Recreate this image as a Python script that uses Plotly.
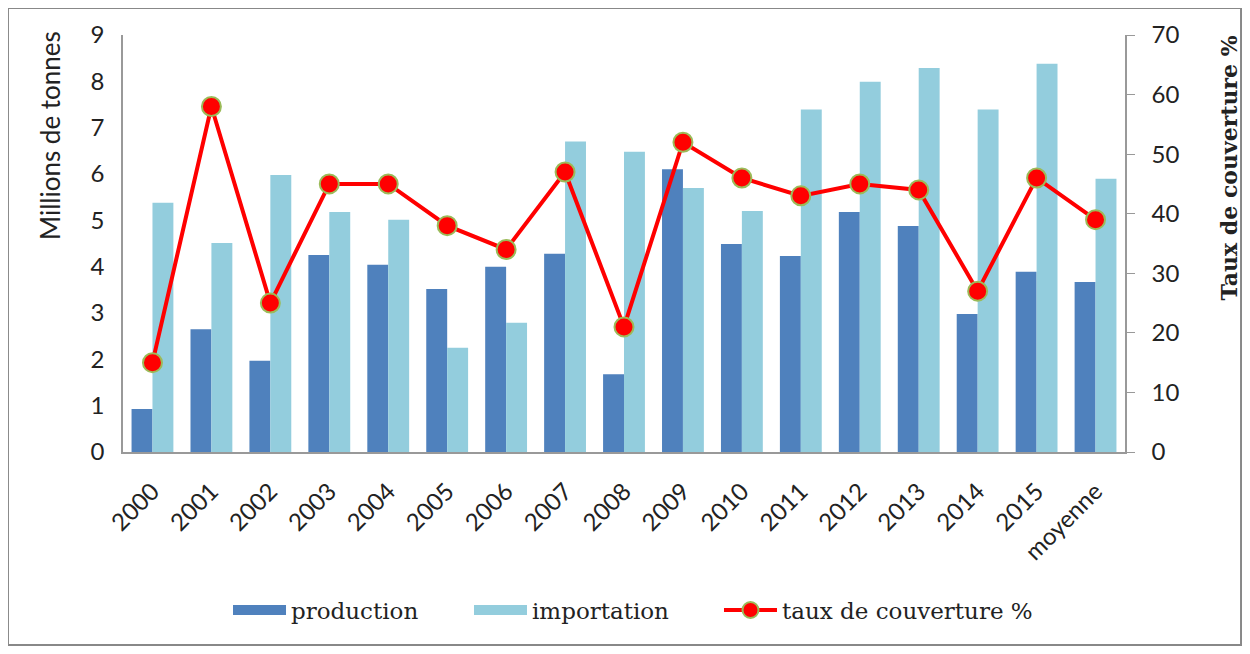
import plotly.graph_objects as go

annees = ["2000", "2001", "2002", "2003", "2004", "2005", "2006", "2007", "2008",
          "2009", "2010", "2011", "2012", "2013", "2014", "2015", "moyenne"]
production = [0.93, 2.65, 1.97, 4.25, 4.04, 3.52, 4.0, 4.28, 1.68,
              6.1, 4.49, 4.23, 5.18, 4.88, 2.98, 3.89, 3.67]
importation = [5.38, 4.51, 5.98, 5.18, 5.01, 2.25, 2.79, 6.7, 6.48,
               5.7, 5.2, 7.39, 7.99, 8.29, 7.39, 8.38, 5.9]
taux = [15, 58, 25, 45, 45, 38, 34, 47, 21, 52, 46, 43, 45, 44, 27, 46, 39]

sans = "Lato, Open Sans, sans-serif"
serif = "DejaVu Serif, Liberation Serif, serif"
c_prod, c_imp = "#4f81bd", "#93cddd"

fig = go.Figure()
fig.add_bar(x=annees, y=production, name="production", marker_color=c_prod,
            marker_line_width=0, showlegend=False)
fig.add_bar(x=annees, y=importation, name="importation", marker_color=c_imp,
            marker_line_width=0, showlegend=False)
# legend swatches drawn as wide strokes, like the original
for nom, col, leg in [("production", c_prod, "legend"),
                      ("importation", c_imp, "legend2")]:
    fig.add_scatter(x=[None], y=[None], mode="lines", name=nom, legend=leg,
                    line=dict(color=col, width=14))
fig.add_scatter(x=annees, y=taux, name="taux de couverture %", yaxis="y2",
                legend="legend3", mode="lines+markers",
                line=dict(color="#ff0000", width=4),
                marker=dict(size=19, color="#ff0000",
                            line=dict(color="#9bbb59", width=2)))

leg = dict(orientation="h", xanchor="left", y=-0.379, yanchor="middle",
           font=dict(family=serif, size=23), itemwidth=53)

fig.update_layout(
    width=1234, height=638,
    margin=dict(l=115, r=117, t=27, b=194),
    paper_bgcolor="white", plot_bgcolor="white",
    barmode="group", bargap=0.29, bargroupgap=0,
    font=dict(family=sans, size=24, color="#222"),
    xaxis=dict(tickangle=-45, showline=True, linecolor="#999", linewidth=1.5,
               ticks="", tickfont=dict(size=24), ticklabelstandoff=14,
               range=[-0.5, len(annees) - 0.5]),
    yaxis=dict(range=[0, 9], dtick=1, showgrid=False, showline=True,
               linecolor="#999", linewidth=1.5, ticks="",
               tickfont=dict(size=24), ticklabelstandoff=12),
    yaxis2=dict(range=[0, 70], dtick=10, overlaying="y", side="right",
                showgrid=False, showline=True, linecolor="#999", linewidth=1.5,
                ticks="outside", ticklen=8, tickcolor="#999",
                tickfont=dict(size=24), ticklabelstandoff=12),
    legend=dict(leg, x=0.1048),
    legend2=dict(leg, x=0.3453),
    legend3=dict(leg, x=0.5948),
    annotations=[
        dict(text="Millions de tonnes", xref="paper", yref="paper",
             x=-0.0729, y=0.76, xanchor="center", yanchor="middle",
             textangle=-90, showarrow=False,
             font=dict(family=sans, size=26)),
        dict(text="<b>Taux de couverture %</b>", xref="paper", yref="paper",
             x=1.1038, y=0.68, xanchor="center", yanchor="middle",
             textangle=-90, showarrow=False,
             font=dict(family=serif, size=22)),
    ],
    shapes=[dict(type="rect", xref="paper", yref="paper",
                 x0=-0.1148, x1=1.1158, y0=-0.4628, y1=1.0647,
                 line=dict(color="#888", width=2))],
)

fig.write_html("out.html")
